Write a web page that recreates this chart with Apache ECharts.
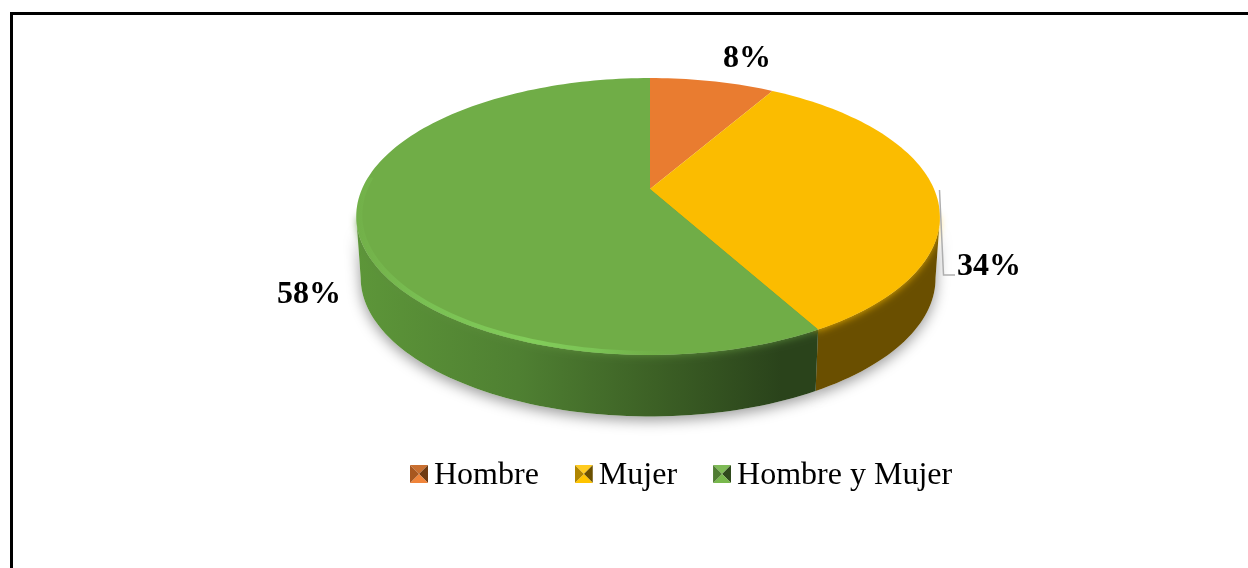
<!DOCTYPE html>
<html>
<head>
<meta charset="utf-8">
<style>
	html, body { margin: 0; padding: 0; background: #fff; }
	#chart { width: 1248px; height: 568px; }
</style>
<script src="https://cdn.jsdelivr.net/npm/echarts@6/dist/echarts.min.js"></script>
</head>
<body>
<div id="chart"></div>
<script>
	// datos
	var categories = ['Hombre', 'Mujer', 'Hombre y Mujer'];
	var values = [8.4, 33.5, 58.1];

	var topColors = ['#E97C30', '#FBBC00', '#70AD47'];
	var rimShadow = ['#E97C30', '#FBBC00', '#5d8f3b'];
	var labelOffsets = [[97, -130], [339, 78], [-341, 106]];

	// perspectiva del disco
	var cx = 650, cy = 189, rx = 286, ry = 133, persp = 0.1986, depth = 61.5, shrink = 0.985;

	function rim(deg, k) {
		var a = deg * Math.PI / 180;
		var u = Math.sin(a) * k, v = -Math.cos(a) * k;
		var w = 1 / (1 - persp * v);
		return [cx + rx * u * w - 2 * (1 - v * v), cy + ry * v * w];
	}
	function base(deg) {
		var p = rim(deg, 1);
		return [cx + (p[0] - cx) * shrink, p[1] + depth];
	}
	function arc(fn, from, to, k) {
		var pts = [];
		var n = Math.max(2, Math.ceil(Math.abs(to - from) / 1.5));
		for (var i = 0; i <= n; i++) {
			pts.push(fn(from + (to - from) * i / n, k));
		}
		return pts;
	}
	// el icono lleva 4px libres abajo para que el texto quede centrado como en la figura
	function pyramid(c1, c2, c3, c4) {
		var svg = '<svg xmlns="http://www.w3.org/2000/svg" width="18" height="22">'
			+ '<polygon points="0,0 18,0 9,9" fill="' + c1 + '"/>'
			+ '<polygon points="18,0 18,18 9,9" fill="' + c2 + '"/>'
			+ '<polygon points="18,18 0,18 9,9" fill="' + c3 + '"/>'
			+ '<polygon points="0,18 0,0 9,9" fill="' + c4 + '"/></svg>';
		return 'image://data:image/svg+xml;charset=utf-8,' + encodeURIComponent(svg);
	}
	var legendIcons = [
		pyramid('#C96F30', '#6e3a12', '#F0843A', '#a8571f'),
		pyramid('#FFCB20', '#6b5000', '#FFC400', '#b08500'),
		pyramid('#7fbb57', '#2f4a1d', '#78b84c', '#4f7c32')
	];
	var wallFills = [
		null,
		new echarts.graphic.LinearGradient(0, 0, 1, 0, [
			{ offset: 0, color: '#6a4f00' },
			{ offset: 1, color: '#6a4f00' }
		]),
		new echarts.graphic.LinearGradient(0, 0, 1, 0, [
			{ offset: 0, color: '#5d9639' },
			{ offset: 0.35, color: '#4f8032' },
			{ offset: 0.65, color: '#3c6025' },
			{ offset: 0.92, color: '#2a431b' },
			{ offset: 1, color: '#2a431b' }
		])
	];
	var shine = new echarts.graphic.LinearGradient(0, 0, 1, 0, [
		{ offset: 0, color: 'rgba(125,195,85,0.15)' },
		{ offset: 0.15, color: 'rgba(125,200,88,0.7)' },
		{ offset: 0.4, color: 'rgba(130,205,90,1)' },
		{ offset: 0.55, color: 'rgba(125,200,88,0.8)' },
		{ offset: 0.75, color: 'rgba(112,173,71,0)' },
		{ offset: 1, color: 'rgba(112,173,71,0)' }
	]);

	function renderSlice(params, api) {
		var idx = params.seriesIndex;
		var total = values.reduce(function (s, v) { return s + v; }, 0);
		var before = 0;
		for (var i = 0; i < idx; i++) before += values[i];
		var v = api.value(0);
		var start = before / total * 360;
		var end = (before + v) / total * 360;
		var children = [];

		// pared visible, solo la parte frontal del disco
		var tangent = Math.acos(-persp) * 180 / Math.PI;
		var wFrom = Math.max(start, tangent), wTo = Math.min(end, 360 - tangent);
		if (wTo > wFrom) {
			var wall = arc(rim, wFrom, wTo, 1).concat(arc(base, wTo, wFrom));
			children.push({
				type: 'polygon', z2: 0, shape: { points: wall },
				style: { fill: '#fff', shadowBlur: 14, shadowColor: 'rgba(0,0,0,0.4)', shadowOffsetY: 4 }
			});
			children.push({
				type: 'polygon', z2: 1, shape: { points: wall },
				style: { fill: wallFills[idx] }
			});
			// borde difuso entre cara y pared
			children.push({
				type: 'polygon', z2: 2,
				shape: { points: [[cx, cy]].concat(arc(rim, wFrom, wTo, 0.995)) },
				style: { fill: rimShadow[idx], shadowBlur: 9, shadowColor: rimShadow[idx], shadowOffsetY: 1 }
			});
		}

		// cara superior
		children.push({
			type: 'polygon', z2: 3,
			shape: { points: [[cx, cy]].concat(arc(rim, start, end, 1)) },
			style: { fill: topColors[idx] }
		});

		// brillo del borde en el sector verde
		if (idx === 2) {
			children.push({
				type: 'polygon', z2: 4,
				shape: { points: arc(rim, 275, 155, 1).concat(arc(rim, 155, 275, 0.98)) },
				style: { fill: shine }
			});
		}

		// linea guia de 34%
		if (idx === 1) {
			children.push({
				type: 'polyline', z2: 5,
				shape: { points: [[939.5, 190], [943.5, 275], [955, 275]] },
				style: { fill: null, stroke: '#aeaeae', lineWidth: 1.5 }
			});
		}

		children.push({
			type: 'text', z2: 6,
			x: cx + labelOffsets[idx][0], y: cy + labelOffsets[idx][1],
			style: {
				text: Math.round(v) + '%',
				fill: '#000',
				font: 'bold 32px "Liberation Serif"',
				align: 'center',
				verticalAlign: 'middle'
			}
		});
		return { type: 'group', children: children };
	}

	var chart = echarts.init(document.getElementById('chart'), null, { renderer: 'canvas' });
	chart.setOption({
		animation: false,
		backgroundColor: '#fff',
		legend: {
			left: 405,
			top: 455,
			itemWidth: 18,
			itemHeight: 22,
			itemGap: 36,
			textStyle: { fontFamily: 'Liberation Serif', fontSize: 32, color: '#000', padding: [0, 0, 0, 1] },
			data: categories.map(function (name, i) {
				return { name: name, icon: legendIcons[i] };
			})
		},
		graphic: [
			{ type: 'rect', shape: { x: 10, y: 12, width: 1238, height: 3 }, style: { fill: '#000' } },
			{ type: 'rect', shape: { x: 10, y: 12, width: 3, height: 556 }, style: { fill: '#000' } }
		],
		series: categories.map(function (name, i) {
			return {
				type: 'custom',
				name: name,
				coordinateSystem: 'none',
				silent: true,
				itemStyle: { color: topColors[i] },
				renderItem: renderSlice,
				data: [[values[i]]]
			};
		})
	});
</script>
</body>
</html>
